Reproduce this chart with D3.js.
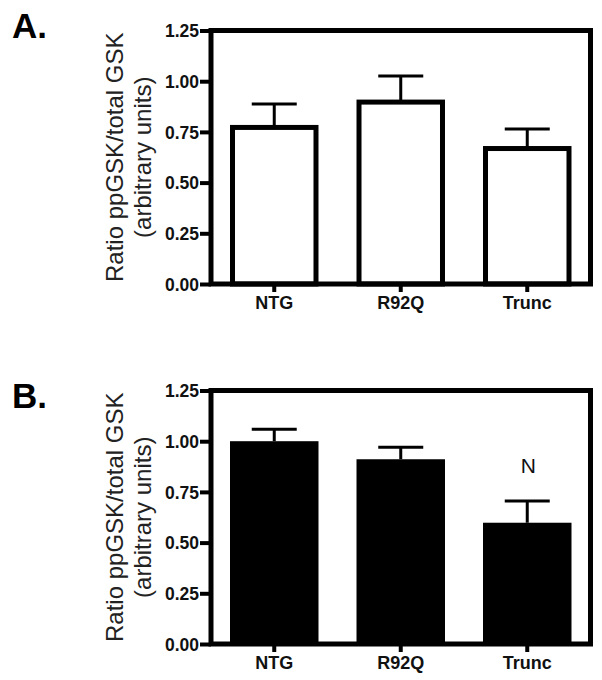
<!DOCTYPE html>
<html>
<head>
<meta charset="utf-8">
<script src="https://cdn.jsdelivr.net/npm/d3@7"></script>
<style>
  html, body { margin: 0; padding: 0; background: #fff; }
  svg { display: block; }
</style>
</head>
<body>
<svg id="chart" width="602" height="680"></svg>
<script>
// ---- data ----
const categories = ["NTG", "R92Q", "Trunc"];
const meansA = [0.772, 0.897, 0.668];
const errA   = [0.116, 0.129, 0.096];
const meansB = [1.000, 0.911, 0.598];
const errB   = [0.059, 0.059, 0.107];
const yTicks = [0.00, 0.25, 0.50, 0.75, 1.00, 1.25];
const panelLabels = ["A.", "B."];
const yLabelLine1 = "Ratio ppGSK/total GSK";
const yLabelLine2 = "(arbitrary units)";
const annotB = ["", "", "N"];

const svg = d3.select("#chart");
const font = "Liberation Sans, Arial, Helvetica, sans-serif";

const left = 211, right = 590.5;

function panel(opts) {
  const { top, bottom, means, errs, filled, letter, letterY, annot } = opts;
  const g = svg.append("g");

  const x = d3.scaleBand().domain(categories).range([left, right])
    .paddingInner(0.34).paddingOuter(0.17);
  const y = d3.scaleLinear().domain([0, 1.25]).range([bottom, top]);

  // bars
  const bw = x.bandwidth();
  g.selectAll("rect.bar").data(categories).join("rect")
    .attr("class", "bar")
    .attr("x", (d) => filled ? x(d) - 2.5 : x(d))
    .attr("width", filled ? bw + 5 : bw)
    .attr("y", (d, i) => y(means[i]))
    .attr("height", (d, i) => y(0) - y(means[i]))
    .attr("fill", filled ? "#000" : "#fff")
    .attr("stroke", filled ? "none" : "#000")
    .attr("stroke-width", 5);

  // error bars
  categories.forEach((c, i) => {
    const cx = x(c) + bw / 2;
    const yTop = y(means[i] + errs[i]);
    g.append("line").attr("x1", cx).attr("x2", cx)
      .attr("y1", y(means[i])).attr("y2", yTop)
      .attr("stroke", "#000").attr("stroke-width", 3);
    g.append("line").attr("x1", cx - 22.5).attr("x2", cx + 22.5)
      .attr("y1", yTop).attr("y2", yTop)
      .attr("stroke", "#000").attr("stroke-width", 3);
  });

  // frame
  g.append("rect")
    .attr("x", left).attr("y", top)
    .attr("width", right - left).attr("height", bottom - top)
    .attr("fill", "none").attr("stroke", "#000").attr("stroke-width", 5);

  // y axis
  const ya = g.append("g").attr("transform", `translate(${left},0)`)
    .call(d3.axisLeft(y).tickValues(yTicks).tickFormat(d3.format(".2f"))
      .tickSize(11).tickPadding(1));
  ya.select(".domain").remove();
  ya.selectAll(".tick line").attr("stroke", "#000").attr("stroke-width", 4);
  ya.selectAll(".tick text")
    .attr("font-family", font).attr("font-size", 17.5).attr("font-weight", "bold")
    .attr("fill", "#111").attr("dy", "0.36em");

  // x axis
  const xa = g.append("g").attr("transform", `translate(0,${bottom})`)
    .call(d3.axisBottom(x).tickSize(8).tickPadding(0));
  xa.select(".domain").remove();
  xa.selectAll(".tick line").attr("stroke", "#000").attr("stroke-width", 4);
  xa.selectAll(".tick text")
    .attr("font-family", font).attr("font-size", 18).attr("font-weight", "bold")
    .attr("fill", "#111").attr("y", 24.5).attr("dy", 0);

  // y label
  const cy = (top + bottom) / 2;
  g.append("text")
    .attr("transform", `translate(123,${cy}) rotate(-90)`)
    .attr("text-anchor", "middle")
    .attr("font-family", font).attr("font-size", 24).attr("fill", "#222")
    .text(yLabelLine1);
  g.append("text")
    .attr("transform", `translate(151,${cy}) rotate(-90)`)
    .attr("text-anchor", "middle")
    .attr("font-family", font).attr("font-size", 24).attr("fill", "#222")
    .text(yLabelLine2);

  // panel letter
  g.append("text")
    .attr("x", 12).attr("y", letterY)
    .attr("font-family", font).attr("font-size", 35).attr("font-weight", "bold")
    .attr("fill", "#000").text(letter);

  // annotations
  if (annot) {
    categories.forEach((c, i) => {
      if (!annot[i]) return;
      g.append("text")
        .attr("x", x(c) + bw / 2 + 1).attr("y", y(means[i] + errs[i]) - 28)
        .attr("text-anchor", "middle")
        .attr("font-family", font).attr("font-size", 21).attr("fill", "#111")
        .text(annot[i]);
    });
  }
}

panel({ top: 30.5, bottom: 284, means: meansA, errs: errA, filled: false,
        letter: panelLabels[0], letterY: 38 });
panel({ top: 390.5, bottom: 644, means: meansB, errs: errB, filled: true,
        letter: panelLabels[1], letterY: 408, annot: annotB });
</script>
</body>
</html>
